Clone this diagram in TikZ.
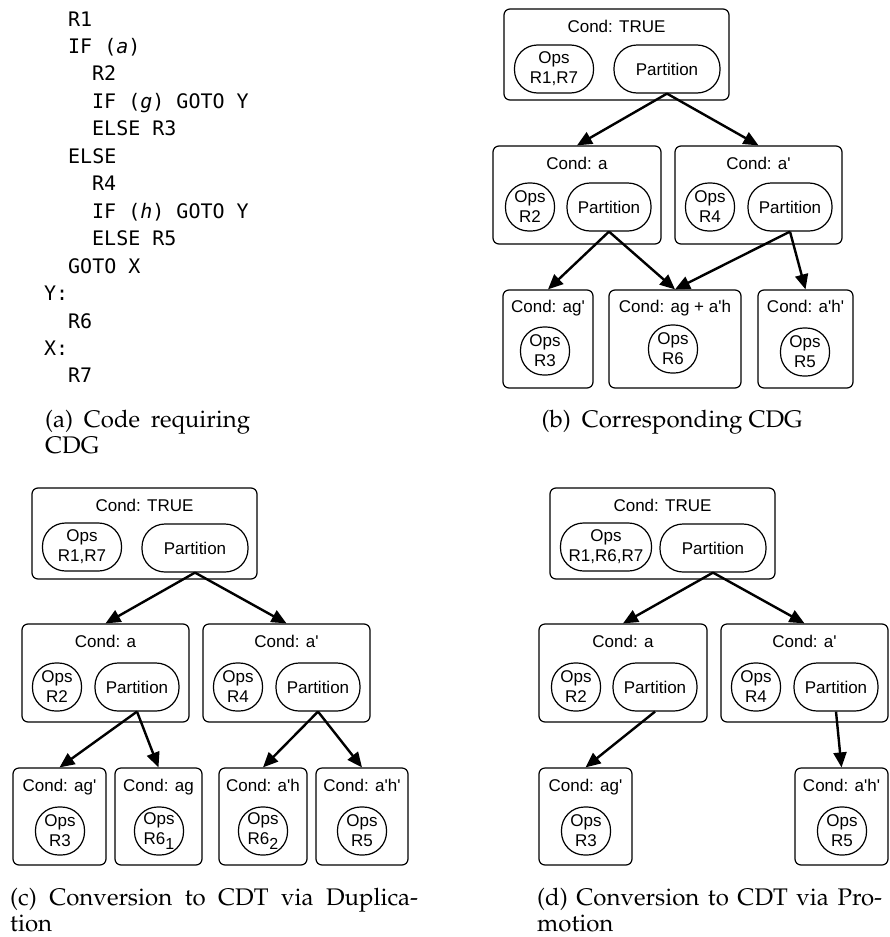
\documentclass[tikz,border=0pt]{standalone}
\usepackage{fontspec}
\setmainfont{Liberation Sans}
\newfontfamily\codefont{DejaVu Sans Mono}
\usetikzlibrary{arrows.meta}
\newcommand\capfont{\fontencoding{OT1}\fontfamily{ppl}\fontsize{24}{27}\selectfont}
\newcommand\subone[1]{\raisebox{-5pt}{\fontsize{16}{16}\selectfont #1}}
\newcommand\ap{\textquotesingle}
\begin{document}
\begin{tikzpicture}[x=1pt,y=-1pt,
  cbox/.style={draw,line width=1.2pt,rounded corners=6pt,inner sep=0pt},
  cond/.style={anchor=base,inner sep=0pt,font=\fontsize{17}{20}\selectfont},
  pill/.style={draw,line width=1.2pt,rounded corners=23pt,inner sep=0pt,
    minimum height=48pt,align=center,font=\fontsize{17}{20}\selectfont},
  ops/.style={pill,minimum width=49pt},
  part/.style={pill,minimum width=84pt},
  bigpart/.style={pill,minimum width=106pt},
  arr/.style={line width=2.4pt,-{Triangle[length=15pt,width=13pt]}},
  codeline/.style={anchor=base west,inner sep=0pt,font=\codefont\fontsize{20}{24}\selectfont},
  captxt/.style={anchor=base west,inner sep=0pt,font=\capfont}]
\useasboundingbox (0,0) rectangle (890,937);

% ---------- (a) source code ----------
\foreach \i/\ind/\txt in {1/1/{R1},2/1/{IF (\textit{a})},3/2/{R2},4/2/{IF (\textit{g}) GOTO Y},
  5/2/{ELSE R3},6/1/{ELSE},7/2/{R4},8/2/{IF (\textit{h}) GOTO Y},9/2/{ELSE R5},
  10/1/{GOTO X},11/0/{Y:},12/1/{R6},13/0/{X:},14/1/{R7}}
  \node[codeline] (code\i) at ({44+24*\ind},{26+27.46*(\i-1)}) {\txt};
\node[captxt] (capA1) at (45,427) {\makebox[205pt][s]{(a) Code requiring}};
\node[captxt] (capA2) at (45,453) {CDG};

% ---------- (b) CDG ----------
\node[cbox,minimum width=225pt,minimum height=91pt] (bT) at (616.5,54.5) {};
\node[cond] (bTc) at (616.5,32) {Cond: TRUE};
\node[pill,minimum width=79pt] (bTo) at (554,69) {Ops\\R1,R7};
\node[bigpart] (bTp) at (667,69) {Partition};

\node[cbox,minimum width=168pt,minimum height=98pt] (bA) at (577,195) {};
\node[cond] (bAc) at (577,169) {Cond: a};
\node[ops] (bAo) at (530,207) {Ops\\R2};
\node[part] (bAp) at (609,207) {Partition};

\node[cbox,minimum width=167pt,minimum height=98pt] (bN) at (758.5,195) {};
\node[cond] (bNc) at (758.5,169) {Cond: a\ap};
\node[ops] (bNo) at (710,207) {Ops\\R4};
\node[part] (bNp) at (790,207) {Partition};

\node[cbox,minimum width=90pt,minimum height=98pt] (bG) at (548,339) {};
\node[cond] (bGc) at (548,312) {Cond: ag\ap};
\node[ops] (bGo) at (545,351) {Ops\\R3};

\node[cbox,minimum width=132pt,minimum height=98pt] (bM) at (675,339) {};
\node[cond] (bMc) at (675,312) {Cond: ag + a\ap h};
\node[ops] (bMo) at (673,349) {Ops\\R6};

\node[cbox,minimum width=95pt,minimum height=98pt] (bH) at (805.5,339) {};
\node[cond] (bHc) at (805.5,312) {Cond: a\ap h\ap};
\node[ops] (bHo) at (805,352) {Ops\\R5};

\draw[arr] (bTp.south) -- (bA.north);
\draw[arr] (bTp.south) -- (bN.north);
\draw[arr] (bAp.south) -- (bG.north);
\draw[arr] (bAp.south) -- (bM.north);
\draw[arr] (bNp.south) -- (bM.north);
\draw[arr] (bNp.south) -- (bH.north);
\node[anchor=base,inner sep=0pt,font=\capfont] (capB) at (672,427) {(b)\hspace{5pt} Corresponding CDG};

% ---------- (c) CDT via duplication ----------
\node[cbox,minimum width=225pt,minimum height=91pt] (cT) at (144.5,533.5) {};
\node[cond] (cTc) at (144.5,511) {Cond: TRUE};
\node[pill,minimum width=79pt] (cTo) at (82,547) {Ops\\R1,R7};
\node[bigpart] (cTp) at (195,548) {Partition};

\node[cbox,minimum width=167pt,minimum height=98pt] (cA) at (105.5,673) {};
\node[cond] (cAc) at (105.5,647) {Cond: a};
\node[ops] (cAo) at (57,687) {Ops\\R2};
\node[part] (cAp) at (137,687) {Partition};

\node[cbox,minimum width=167pt,minimum height=98pt] (cN) at (286.5,673) {};
\node[cond] (cNc) at (286.5,647) {Cond: a\ap};
\node[ops] (cNo) at (238,687) {Ops\\R4};
\node[part] (cNp) at (318,687) {Partition};

\node[cbox,minimum width=93pt,minimum height=97pt] (cG) at (59.5,816.5) {};
\node[cond] (cGc) at (59.5,791) {Cond: ag\ap};
\node[ops] (cGo) at (60,831) {Ops\\R3};

\node[cbox,minimum width=87pt,minimum height=97pt] (cP) at (158.5,816.5) {};
\node[cond] (cPc) at (158.5,791) {Cond: ag};
\node[ops] (cPo) at (159,831) {Ops\\R6\subone{1}};

\node[cbox,minimum width=88pt,minimum height=97pt] (cQ) at (263,816.5) {};
\node[cond] (cQc) at (263,791) {Cond: a\ap h};
\node[ops] (cQo) at (263,831) {Ops\\R6\subone{2}};

\node[cbox,minimum width=92pt,minimum height=97pt] (cH) at (362,816.5) {};
\node[cond] (cHc) at (362,791) {Cond: a\ap h\ap};
\node[ops] (cHo) at (362,831) {Ops\\R5};

\draw[arr] (cTp.south) -- (cA.north);
\draw[arr] (cTp.south) -- (cN.north);
\draw[arr] (cAp.south) -- (cG.north);
\draw[arr] (cAp.south) -- (cP.north);
\draw[arr] (cNp.south) -- (cQ.north);
\draw[arr] (cNp.south) -- (cH.north);
\node[captxt] (capC1) at (10,905) {\makebox[408pt][s]{(c) Conversion to CDT via Duplica-}};
\node[captxt] (capC2) at (10,931) {tion};

% ---------- (d) CDT via promotion ----------
\node[cbox,minimum width=225pt,minimum height=91pt] (dT) at (662.5,533.5) {};
\node[cond] (dTc) at (662.5,511) {Cond: TRUE};
\node[pill,minimum width=91pt] (dTo) at (606,547) {Ops\\R1,R6,R7};
\node[bigpart] (dTp) at (713,548) {Partition};

\node[cbox,minimum width=168pt,minimum height=98pt] (dA) at (623,673) {};
\node[cond] (dAc) at (623,647) {Cond: a};
\node[ops] (dAo) at (576,687) {Ops\\R2};
\node[part] (dAp) at (655,687) {Partition};

\node[cbox,minimum width=167pt,minimum height=98pt] (dN) at (804.5,673) {};
\node[cond] (dNc) at (804.5,647) {Cond: a\ap};
\node[ops] (dNo) at (756,687) {Ops\\R4};
\node[part] (dNp) at (836,687) {Partition};

\node[cbox,minimum width=93pt,minimum height=97pt] (dG) at (585.5,816.5) {};
\node[cond] (dGc) at (585.5,791) {Cond: ag\ap};
\node[ops] (dGo) at (586,831) {Ops\\R3};

\node[cbox,minimum width=93pt,minimum height=97pt] (dH) at (841.5,816.5) {};
\node[cond] (dHc) at (841.5,791) {Cond: a\ap h\ap};
\node[ops] (dHo) at (842,831) {Ops\\R5};

\draw[arr] (dTp.south) -- (dA.north);
\draw[arr] (dTp.south) -- (dN.north);
\draw[arr] (dAp.south) -- (dG.north);
\draw[arr] (dNp.south) -- (dH.north);
\node[captxt] (capD1) at (537,905) {\makebox[345pt][s]{(d) Conversion to CDT via Pro-}};
\node[captxt] (capD2) at (537,931) {motion};
\end{tikzpicture}
\end{document}
